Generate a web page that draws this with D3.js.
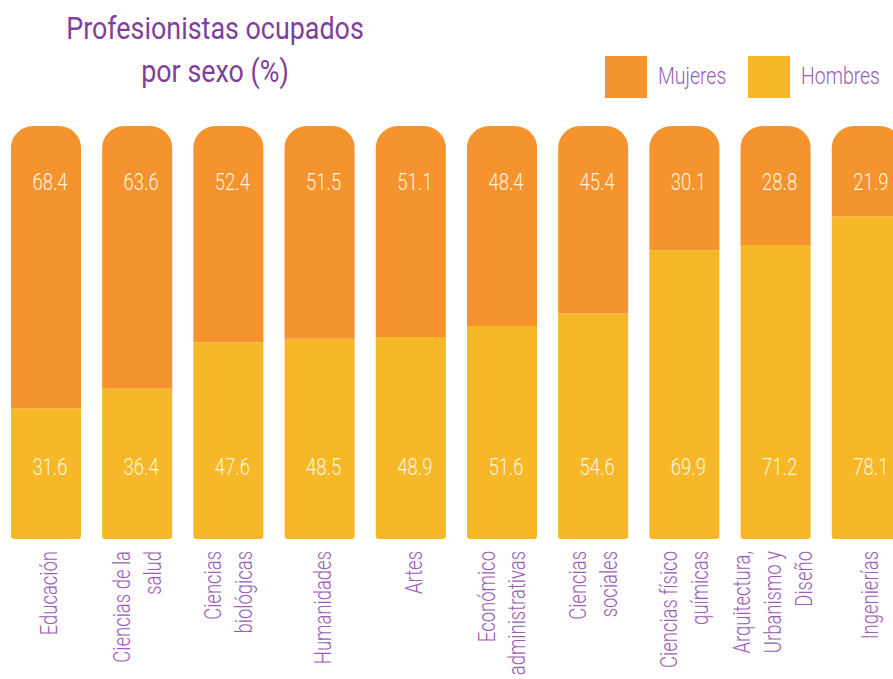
<!DOCTYPE html>
<html>
<head>
<meta charset="utf-8">
<script src="https://cdn.jsdelivr.net/npm/d3@7"></script>
<style>
  body { margin: 0; background: #fff; overflow: hidden; }
  text { font-family: Roboto, "Noto Sans", sans-serif; }
</style>
</head>
<body>
<div id="chart"></div>
<script>

// data
let categories = [
	["Educación"],
	["Ciencias de la", "salud"],
	["Ciencias", "biológicas"],
	["Humanidades"],
	["Artes"],
	["Económico", "administrativas"],
	["Ciencias", "sociales"],
	["Ciencias físico", "químicas"],
	["Arquitectura,", "Urbanismo y", "Diseño"],
	["Ingenierías"]
]
let mujeres = [68.4, 63.6, 52.4, 51.5, 51.1, 48.4, 45.4, 30.1, 28.8, 21.9]
let hombres = [31.6, 36.4, 47.6, 48.5, 48.9, 51.6, 54.6, 69.9, 71.2, 78.1]
let seriesNames = ["Mujeres", "Hombres"]
let seriesColors = ["#f5932f", "#f6b828"]
let titleLines = ["Profesionistas ocupados", "por sexo (%)"]

class StackedBars {

	constructor(parentElement){
		this.parentElement = parentElement
		this.initVis()
	}

	initVis(){
		let vis = this
		vis.width = 893
		vis.height = 679
		vis.squeeze = 0.77   // condensed look

		vis.svg = d3.select(vis.parentElement).append("svg")
			.attr("width", vis.width)
			.attr("height", vis.height)

		vis.x = d3.scaleBand()
			.domain(d3.range(categories.length))
			.range([0.4, 912.4])
			.paddingInner(0.232)
			.paddingOuter(0.116)

		vis.y = d3.scaleLinear()
			.domain([0, 100])
			.range([539, 126])

		vis.color = d3.scaleOrdinal().domain(seriesNames).range(seriesColors)

		// title
		vis.svg.selectAll(".title")
			.data(titleLines)
			.enter()
			.append("text")
			.attr("class", "title")
			.attr("transform", (d, i) => "translate(215," + (39 + i * 43) + ") scale(0.84,1)")
			.attr("text-anchor", "middle")
			.attr("fill", "#7f3f9b")
			.style("font-size", "32px")
			.style("font-weight", 400)
			.text(d => d)

		// legend
		let legend = vis.svg.selectAll(".legend")
			.data(seriesNames)
			.enter()
			.append("g")
			.attr("class", "legend")
			.attr("transform", (d, i) => "translate(" + (605 + i * 143) + ",56)")
		legend.append("rect")
			.attr("width", 42)
			.attr("height", 42)
			.attr("fill", d => vis.color(d))
		legend.append("text")
			.attr("transform", "translate(53,28) scale(0.81,1)")
			.attr("fill", "#9a5cb4")
			.style("font-size", "24px")
			.style("font-weight", 300)
			.text(d => d)

		vis.updateVis()
	}

	barPath(x, y, w, h, rt, rb){
		return "M" + x + "," + (y + rt) +
			"A" + rt + "," + rt + " 0 0 1 " + (x + rt) + "," + y +
			"H" + (x + w - rt) +
			"A" + rt + "," + rt + " 0 0 1 " + (x + w) + "," + (y + rt) +
			"V" + (y + h - rb) +
			"A" + rb + "," + rb + " 0 0 1 " + (x + w - rb) + "," + (y + h) +
			"H" + (x + rb) +
			"A" + rb + "," + rb + " 0 0 1 " + x + "," + (y + h - rb) + "Z"
	}

	updateVis(){
		let vis = this
		let bw = vis.x.bandwidth()

		let groups = vis.svg.selectAll(".bar")
			.data(categories.map((c, i) => ({ i: i, label: c, m: mujeres[i], h: hombres[i] })))
			.enter()
			.append("g")
			.attr("class", "bar")

		// hombres, bottom part
		groups.append("path")
			.attr("fill", vis.color("Hombres"))
			.attr("d", d => vis.barPath(vis.x(d.i), vis.y(d.h), bw, vis.y(0) - vis.y(d.h), 0, 3))

		// mujeres, top part with round corners
		groups.append("path")
			.attr("fill", vis.color("Mujeres"))
			.attr("d", d => vis.barPath(vis.x(d.i), vis.y(d.h + d.m), bw, vis.y(d.h) - vis.y(d.h + d.m), 22, 0))

		groups.append("text")
			.attr("transform", d => "translate(" + (vis.x(d.i) + bw / 2 + 4) + ",190) scale(" + vis.squeeze + ",1)")
			.attr("text-anchor", "middle")
			.attr("fill", "#fff4df")
			.style("font-size", "24px")
			.style("font-weight", 300)
			.text(d => d3.format(".1f")(d.m))

		groups.append("text")
			.attr("transform", d => "translate(" + (vis.x(d.i) + bw / 2 + 4) + ",475) scale(" + vis.squeeze + ",1)")
			.attr("text-anchor", "middle")
			.attr("fill", "#fff4df")
			.style("font-size", "24px")
			.style("font-weight", 300)
			.text(d => d3.format(".1f")(d.h))

		// rotated category labels
		groups.append("text")
			.attr("transform", d => {
				let n = d.label.length
				let bx = vis.x(d.i) + bw / 2 + 11 - (n - 1) * 18.5
				return "translate(" + bx + ",551) rotate(-90) scale(" + vis.squeeze + ",1)"
			})
			.attr("text-anchor", "end")
			.attr("fill", "#9a5cb4")
			.style("font-size", "24px")
			.style("font-weight", 300)
			.selectAll("tspan")
			.data(d => d.label)
			.enter()
			.append("tspan")
			.attr("x", 0)
			.attr("dy", (d, i) => i == 0 ? 0 : 31)
			.text(d => d)
	}
}

new StackedBars("#chart")
</script>
</body>
</html>
